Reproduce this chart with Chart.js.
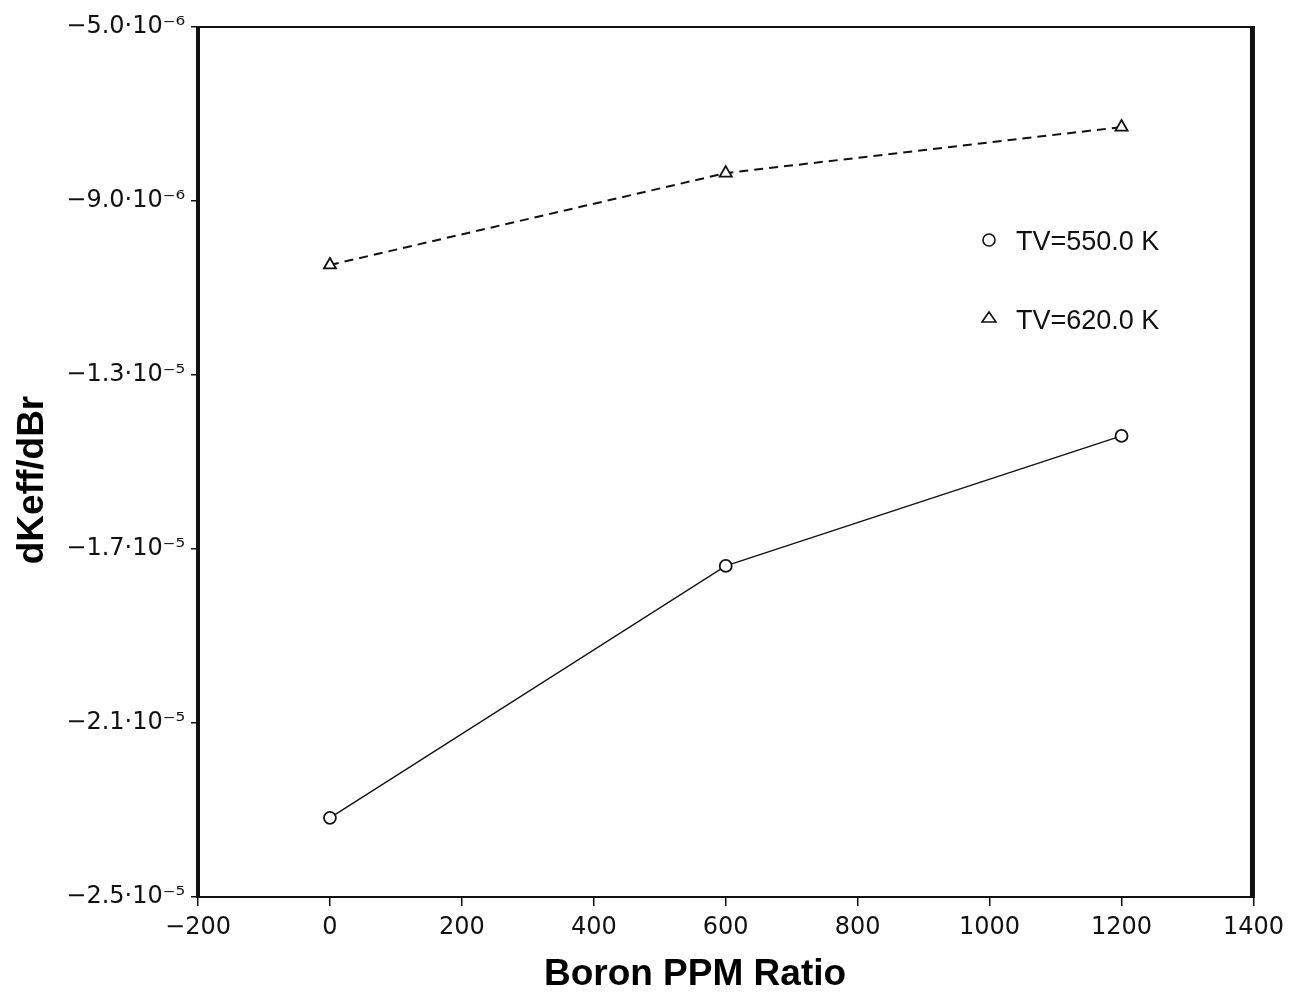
<!DOCTYPE html>
<html>
<head>
<meta charset="utf-8">
<script src="https://cdn.jsdelivr.net/npm/chart.js@4.4.1/dist/chart.umd.min.js"></script>
<style>
    html, body { margin: 0; padding: 0; background: #fff; }
    #wrap { width: 1291px; height: 996px; }
</style>
</head>
<body>
<div id="wrap"><canvas id="boronChart" width="1291" height="996"></canvas></div>
<script>
// Datos
const boronPpm = [0, 600, 1200];
const tv550 = [-2.318e-5, -1.739e-5, -1.440e-5];
const tv620 = [-1.047e-5, -8.36e-6, -7.30e-6];
const seriesLabels = ['TV=550.0 K', 'TV=620.0 K'];
const xTicks = [-200, 0, 200, 400, 600, 800, 1000, 1200, 1400];
const yTicks = [-2.5e-5, -2.1e-5, -1.7e-5, -1.3e-5, -9.0e-6, -5.0e-6];
const yTickLabels = ['\u22122.5\u00b710\u207b\u2075', '\u22122.1\u00b710\u207b\u2075', '\u22121.7\u00b710\u207b\u2075',
                     '\u22121.3\u00b710\u207b\u2075', '\u22129.0\u00b710\u207b\u2076', '\u22125.0\u00b710\u207b\u2076'];

const INK = '#111';

// Marco del area de la grafica
const framePlugin = {
    id: 'frame',
    afterDatasetsDraw(chart) {
        const { ctx, chartArea: a } = chart;
        ctx.save();
        ctx.strokeStyle = INK;
        ctx.lineWidth = 2;
        ctx.beginPath();
        ctx.moveTo(a.left, a.top); ctx.lineTo(a.right, a.top);
        ctx.moveTo(a.left, a.bottom); ctx.lineTo(a.right, a.bottom);
        ctx.stroke();
        ctx.lineWidth = 4;
        ctx.beginPath();
        ctx.moveTo(a.left, a.top - 1); ctx.lineTo(a.left, a.bottom + 1);
        ctx.stroke();
        ctx.lineWidth = 5;
        ctx.beginPath();
        ctx.moveTo(a.right - 1, a.top - 1); ctx.lineTo(a.right - 1, a.bottom + 1);
        ctx.stroke();
        ctx.restore();
    }
};

// Titulos de ejes y leyenda
const textPlugin = {
    id: 'texts',
    afterDraw(chart) {
        const { ctx } = chart;
        ctx.save();
        ctx.fillStyle = '#000';
        ctx.font = 'bold 37px "Liberation Sans", Arial, sans-serif';
        ctx.textAlign = 'center';
        ctx.textBaseline = 'middle';
        ctx.fillText('Boron PPM Ratio', 695, 975);
        ctx.translate(33, 480);
        ctx.rotate(-Math.PI / 2);
        ctx.fillText('dKeff/dBr', 0, 0);
        ctx.restore();

        ctx.save();
        ctx.strokeStyle = INK;
        ctx.fillStyle = INK;
        ctx.lineWidth = 1.6;
        ctx.font = '27px "Liberation Sans", Arial, sans-serif';
        ctx.textBaseline = 'middle';
        ctx.textAlign = 'left';
        // circulo
        ctx.beginPath();
        ctx.arc(989, 240, 6, 0, Math.PI * 2);
        ctx.stroke();
        ctx.fillText(seriesLabels[0], 1016, 243);
        // triangulo
        ctx.beginPath();
        ctx.moveTo(989, 312); ctx.lineTo(996, 322); ctx.lineTo(982, 322); ctx.closePath();
        ctx.stroke();
        ctx.fillText(seriesLabels[1], 1016, 322);
        ctx.restore();
    }
};

new Chart(document.getElementById('boronChart').getContext('2d'), {
    type: 'line',
    data: {
        datasets: [
            {
                label: seriesLabels[0],
                data: boronPpm.map((x, i) => ({ x, y: tv550[i] })),
                borderColor: INK,
                borderWidth: 1.3,
                pointStyle: 'circle',
                pointRadius: 6,
                pointBorderWidth: 1.8,
                pointBackgroundColor: '#fff',
                pointBorderColor: INK,
                tension: 0
            },
            {
                label: seriesLabels[1],
                data: boronPpm.map((x, i) => ({ x, y: tv620[i] })),
                borderColor: INK,
                borderWidth: 2,
                borderDash: [9, 6],
                pointStyle: 'triangle',
                pointRadius: 7,
                pointBorderWidth: 1.8,
                pointBackgroundColor: '#fff',
                pointBorderColor: INK,
                tension: 0
            }
        ]
    },
    options: {
        responsive: false,
        animation: false,
        devicePixelRatio: 1,
        layout: { padding: { top: 27, right: 37, left: 0, bottom: 0 } },
        plugins: { legend: { display: false }, tooltip: { enabled: false } },
        scales: {
            x: {
                type: 'linear',
                min: -200,
                max: 1400,
                afterBuildTicks: s => { s.ticks = xTicks.map(v => ({ value: v })); },
                afterFit: s => { s.height = 99; },
                grid: { drawOnChartArea: false, drawTicks: true, tickLength: 9, color: INK, lineWidth: 1.5 },
                border: { display: false },
                ticks: {
                    color: INK,
                    padding: 7,
                    maxRotation: 0,
                    font: { family: '"DejaVu Sans", sans-serif', size: 24 },
                    callback: v => String(v).replace('-', '\u2212')
                }
            },
            y: {
                type: 'linear',
                min: -2.5e-5,
                max: -5.0e-6,
                afterBuildTicks: s => { s.ticks = yTicks.map(v => ({ value: v })); },
                afterFit: s => { s.width = 198; },
                grid: { drawOnChartArea: false, drawTicks: true, tickLength: 7, color: INK, lineWidth: 1.5 },
                border: { display: false },
                ticks: {
                    color: INK,
                    padding: 6,
                    font: { family: '"DejaVu Sans", sans-serif', size: 24 },
                    callback: (v, i) => yTickLabels[i]
                }
            }
        }
    },
    plugins: [framePlugin, textPlugin]
});
</script>
</body>
</html>
